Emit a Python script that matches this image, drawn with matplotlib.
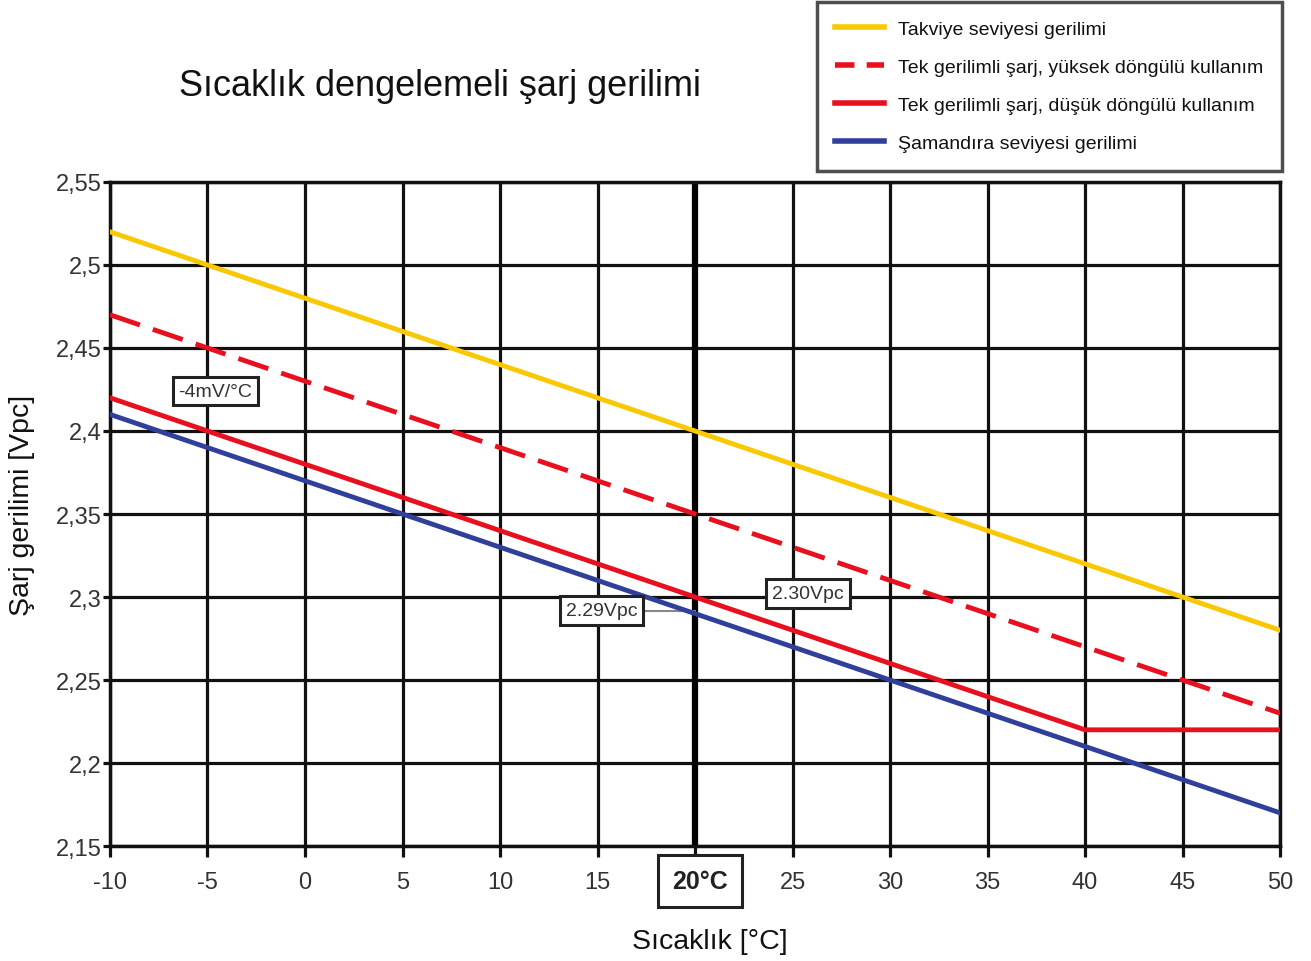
import matplotlib.pyplot as plt
from matplotlib.lines import Line2D

plt.rcParams["font.family"] = ["Liberation Sans", "DejaVu Sans"]

# ------------------------------
# DATA
# ------------------------------
temps = [-10, -5, 0, 5, 10, 15, 20, 25, 30, 35, 40, 45, 50]
boost = [2.52, 2.50, 2.48, 2.46, 2.44, 2.42, 2.40, 2.38, 2.36, 2.34, 2.32, 2.30, 2.28]
single_high = [2.47, 2.45, 2.43, 2.41, 2.39, 2.37, 2.35, 2.33, 2.31, 2.29, 2.27, 2.25, 2.23]
single_low = [2.42, 2.40, 2.38, 2.36, 2.34, 2.32, 2.30, 2.28, 2.26, 2.24, 2.22, 2.22, 2.22]
floating = [2.41, 2.39, 2.37, 2.35, 2.33, 2.31, 2.29, 2.27, 2.25, 2.23, 2.21, 2.19, 2.17]

y_ticks = [2.15, 2.2, 2.25, 2.3, 2.35, 2.4, 2.45, 2.5, 2.55]
y_labels = ["2,15", "2,2", "2,25", "2,3", "2,35", "2,4", "2,45", "2,5", "2,55"]
x_ticks = list(range(-10, 55, 5))
x_labels = [str(t) if t != 20 else "" for t in x_ticks]

labels = [
    "Takviye seviyesi gerilimi",
    "Tek gerilimli şarj, yüksek döngülü kullanım",
    "Tek gerilimli şarj, düşük döngülü kullanım",
    "Şamandıra seviyesi gerilimi",
]

YELLOW = "#f9c800"
RED = "#e8101f"
BLUE = "#2f3f9a"

fig = plt.figure(figsize=(13.11, 9.62), dpi=100)
ax = fig.add_axes([0.0839, 0.1195, 0.8925, 0.6903])

# grid
for t in x_ticks:
    ax.axvline(t, color="#111111", lw=2.3, zorder=1)
for t in y_ticks:
    ax.axhline(t, color="#111111", lw=2.3, zorder=1)
ax.axvline(20, color="black", lw=4.5, zorder=1)

ax.plot(temps, boost, color=YELLOW, lw=3.5, zorder=3)
ax.plot(temps, single_high, color=RED, lw=3.5, dashes=(6.5, 2.8), zorder=3)
ax.plot(temps, single_low, color=RED, lw=3.5, zorder=3)
ax.plot(temps, floating, color=BLUE, lw=3.5, zorder=3)

ax.set_xlim(-10, 50)
ax.set_ylim(2.15, 2.55)
ax.set_xticks(x_ticks)
ax.set_xticklabels(x_labels)
ax.set_yticks(y_ticks)
ax.set_yticklabels(y_labels)
ax.tick_params(axis="both", labelsize=17, colors="#111111", labelcolor="#333333",
               width=2.3, length=8, direction="out")
ax.tick_params(axis="y", pad=1, length=5)
ax.tick_params(axis="x", pad=10)
for s in ax.spines.values():
    s.set_linewidth(2.5)
    s.set_color("#111111")

box = dict(boxstyle="square,pad=0.3", fc="white", ec="#222222", lw=2.2)
ax.text(-4.6, 2.424, "-4mV/°C", fontsize=14, ha="center", va="center",
        color="#333333", bbox=box, zorder=5)
ax.plot([17.5, 20], [2.2915, 2.2915], color="#888888", lw=1.5, zorder=2)
ax.text(15.2, 2.292, "2.29Vpc", fontsize=14, ha="center", va="center",
        color="#333333", bbox=box, zorder=5)
ax.text(25.8, 2.302, "2.30Vpc", fontsize=14, ha="center", va="center",
        color="#333333", bbox=box, zorder=5)

fig.text(700 / 1311, 1 - 882 / 962, "20°C", fontsize=18, fontweight="bold",
         ha="center", va="center", color="#222222",
         bbox=dict(boxstyle="square,pad=0.55", fc="white", ec="#222222", lw=2.2))

fig.text(440 / 1311, 1 - 87 / 962, "Sıcaklık dengelemeli şarj gerilimi",
         fontsize=26, ha="center", va="center", color="#111111")
fig.text(710 / 1311, 1 - 942 / 962, "Sıcaklık [°C]", fontsize=20.5,
         ha="center", va="center", color="#111111")
fig.text(22 / 1311, 1 - 505 / 962, "Şarj gerilimi [Vpc]", fontsize=20.5,
         ha="center", va="center", rotation=90, color="#111111")

handles = [
    Line2D([], [], color=YELLOW, lw=4),
    Line2D([], [], color=RED, lw=4, dashes=(3.5, 2.2)),
    Line2D([], [], color=RED, lw=4),
    Line2D([], [], color=BLUE, lw=4),
]
leg = fig.legend(handles, labels, loc="upper right",
                 bbox_to_anchor=(1282 / 1311, 1 - 3 / 962),
                 prop={"size": 14},
                 frameon=True, fancybox=False, handlelength=2.5, handletextpad=0.75,
                 labelspacing=1.05, borderpad=0.95, borderaxespad=0)
leg.get_frame().set_edgecolor("#222222")
leg.get_frame().set_linewidth(2.5)
for t in leg.get_texts():
    t.set_color("#111111")

fig.savefig("out.png", dpi=100)
